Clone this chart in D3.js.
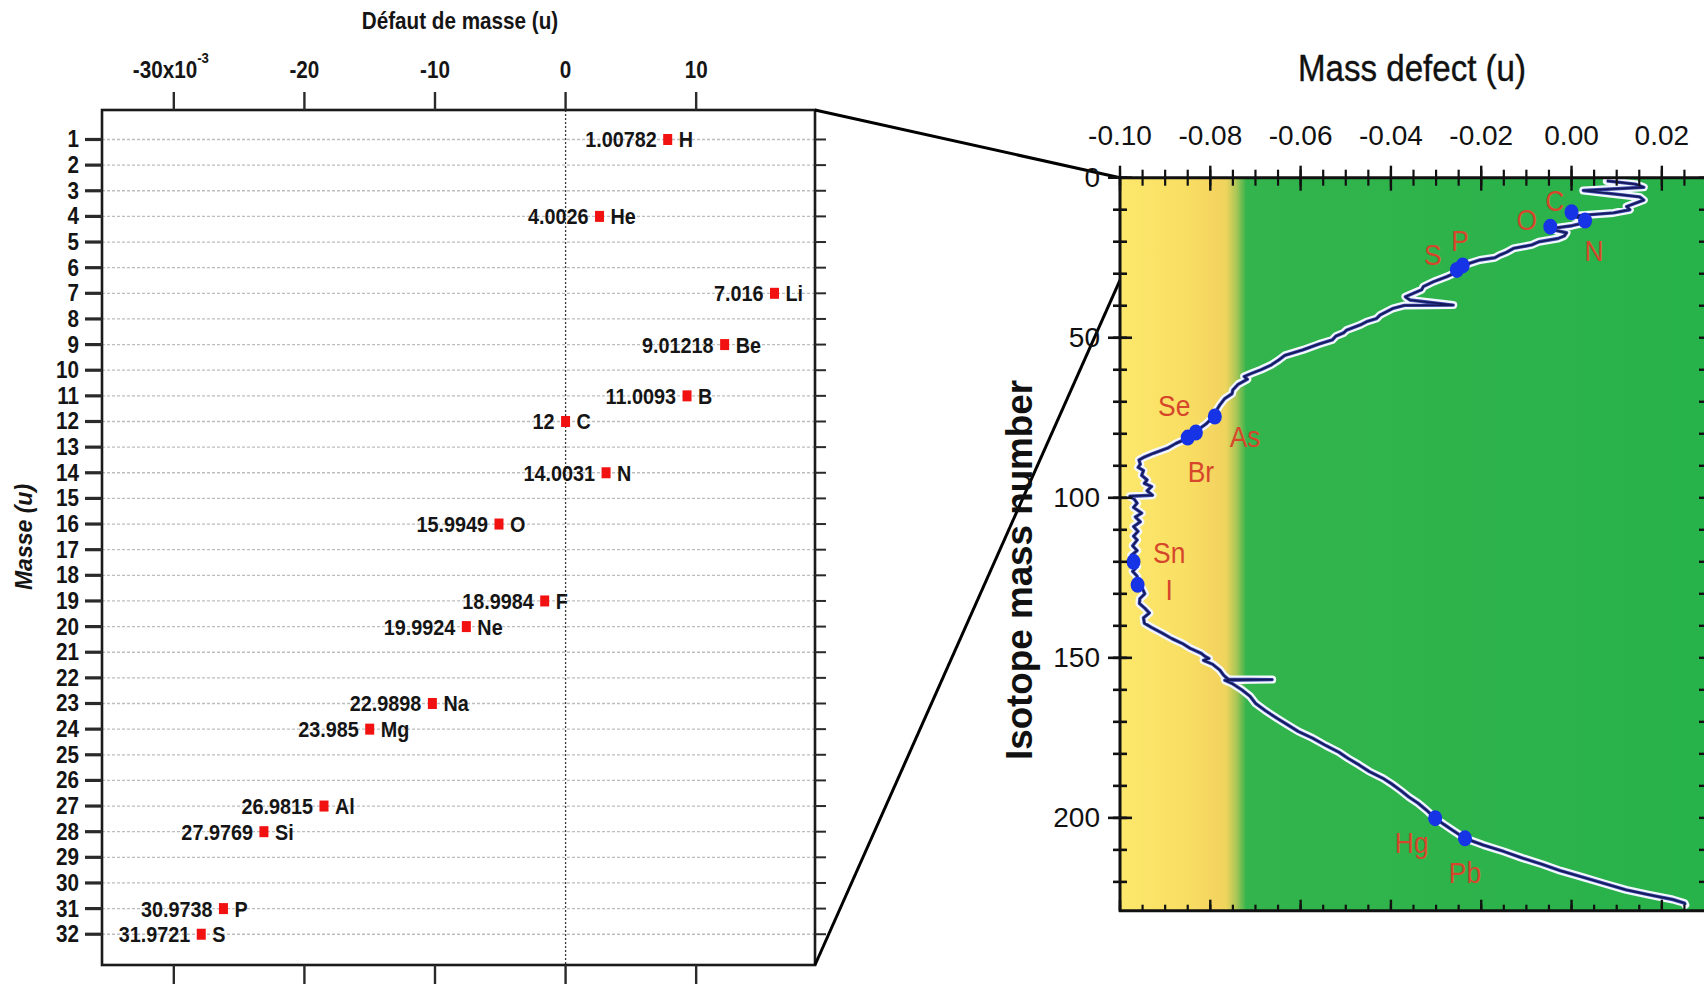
<!DOCTYPE html>
<html>
<head>
<meta charset="utf-8">
<script src="https://cdn.jsdelivr.net/npm/d3@7"></script>
<style>
  html, body { margin: 0; padding: 0; background: #ffffff; }
  svg { display: block; }
</style>
</head>
<body>
<svg id="chart" width="1704" height="984"></svg>
<script>
// ---------- light isotopes (left panel) ----------
const isotopeA      = [1, 4, 7, 9, 11, 12, 14, 16, 19, 20, 23, 24, 27, 28, 31, 32];
const isotopeMass   = [1.00782, 4.0026, 7.016, 9.01218, 11.0093, 12, 14.0031, 15.9949,
                       18.9984, 19.9924, 22.9898, 23.985, 26.9815, 27.9769, 30.9738, 31.9721];
const isotopeSymbol = ["H", "He", "Li", "Be", "B", "C", "N", "O",
                       "F", "Ne", "Na", "Mg", "Al", "Si", "P", "S"];
const leftDefectTicks = [-30, -20, -10, 0, 10];           // units of 10^-3 u
const leftMassTicks   = d3.range(1, 33);

// ---------- mass defect curve over all mass numbers (right panel) ----------
const curveA = [
  1.0, 2.0, 3.0, 4.0, 6.0, 7.0, 9.0, 10.0, 11.0, 12.0, 13.0, 14.0, 15.0, 16.0,
  17.2, 18.2, 19.0, 20.0, 21.0, 22.1, 23.3, 24.1, 25.0, 25.7, 26.7, 27.5, 28.8,
  30.0, 30.9, 32.5, 34.0, 35.0, 36.1, 37.2, 38.2, 39.8, 39.9, 40.8, 42.9, 44.0,
  45.0, 46.0, 47.6, 48.5, 49.5, 50.7, 52.0, 53.8, 55.5, 56.9, 58.5, 60.0, 61.1,
  62.1, 63.0, 64.5, 66.3, 67.5, 69.0, 71.0, 73.1, 75.0, 77.0, 79.0, 80.5, 82.0,
  83.0, 84.5, 86.1, 87.2, 88.2, 89.5, 90.5, 91.5, 93.0, 94.4, 95.5, 96.5, 97.8,
  99.2, 99.5, 100.5, 101.7, 103.0, 104.8, 106.0, 107.5, 109.0, 110.5, 112.0,
  113.2, 115.0, 116.5, 118.0, 119.9, 121.5, 123.0, 124.5, 126.7, 128.5, 130.0,
  131.5, 133.0, 134.5, 136.0, 137.5, 139.2, 140.5, 142.3, 144.0, 145.5, 147.0,
  148.6, 149.5, 150.2, 150.8, 152.0, 153.8, 155.5, 156.7, 156.8, 157.0, 158.0,
  160.0, 162.0, 164.2, 166.5, 168.9, 171.0, 173.0, 175.1, 177.5, 179.5, 181.4,
  183.5, 185.5, 187.6, 189.5, 191.5, 193.5, 195.4, 197.5, 200.1, 202.0, 204.0,
  206.4, 208.5, 210.5, 212.5, 214.5, 216.5, 218.3, 220.5, 222.5, 224.0, 225.5,
  226.6, 227.2
];
const curveDefect = [
  0.0078, 0.0141, 0.0160, 0.0026, 0.0151, 0.0160, 0.0122, 0.0129, 0.0093, 0.0000,
  0.0034, 0.0031, 0.0001, -0.0051,
  -0.0011, -0.0016, -0.0030, -0.0072, -0.0088, -0.0129, -0.0144, -0.0158, -0.0170,
  -0.0203, -0.0225, -0.0240, -0.0254,
  -0.0262, -0.0276, -0.0306, -0.0328, -0.0332, -0.0350, -0.0368, -0.0358, -0.0262,
  -0.0370, -0.0395, -0.0424, -0.0432,
  -0.0454, -0.0468, -0.0498, -0.0505, -0.0522, -0.0530, -0.0560, -0.0595, -0.0635,
  -0.0648, -0.0665, -0.0688, -0.0708,
  -0.0725, -0.0718, -0.0738, -0.0750, -0.0752, -0.0768, -0.0779, -0.0788, -0.0795,
  -0.0810, -0.0830, -0.0845, -0.0860,
  -0.0876, -0.0895, -0.0926, -0.0945, -0.0958, -0.0955, -0.0960, -0.0948, -0.0952,
  -0.0940, -0.0946, -0.0930, -0.0940,
  -0.0928, -0.0978, -0.0968, -0.0962, -0.0970, -0.0952, -0.0966, -0.0955, -0.0970,
  -0.0960, -0.0970,
  -0.0962, -0.0972, -0.0962, -0.0975, -0.0970, -0.0962, -0.0972, -0.0962, -0.0959,
  -0.0950, -0.0945,
  -0.0956, -0.0957, -0.0945, -0.0935, -0.0948, -0.0946, -0.0930, -0.0906, -0.0885,
  -0.0862, -0.0845,
  -0.0820, -0.0812, -0.0803, -0.0815, -0.0795, -0.0779, -0.0770, -0.0760, -0.0663,
  -0.0768, -0.0752,
  -0.0730, -0.0712, -0.0700, -0.0678, -0.0652, -0.0628, -0.0605, -0.0573, -0.0543,
  -0.0515, -0.0495,
  -0.0470, -0.0448, -0.0418, -0.0397, -0.0378, -0.0360, -0.0340, -0.0322, -0.0302,
  -0.0283, -0.0262,
  -0.0236, -0.0195, -0.0150, -0.0110, -0.0065, -0.0025, 0.0019, 0.0072, 0.0121,
  0.0170, 0.0224,
  0.0250, 0.0252
];

// highlighted nuclides on the curve
const markedSymbol = ["C", "N", "O", "S", "P", "As", "Se", "Br", "Sn", "I", "Hg", "Pb"];
const markedA      = [10.8, 13.4, 15.3, 28.8, 27.4, 74.6, 79.6, 81.2, 120.0, 127.2, 200.1, 206.4];
const markedDefect = [0.0000, 0.0030, -0.0047, -0.0254, -0.0241, -0.0790, -0.0832, -0.0850,
                      -0.0970, -0.0961, -0.0302, -0.0236];

const rightDefectTicks = [-0.10, -0.08, -0.06, -0.04, -0.02, 0.00, 0.02];
const rightMassTicks   = [0, 50, 100, 150, 200];

// label placement for the highlighted nuclides (data coordinates of label centre)
const labelSpot = {
  C: [7.0, -0.0037],  O: [12.9, -0.0099], N: [22.6, 0.0050],
  S: [24.1, -0.0307], P: [19.5, -0.0247],
  Se: [71.0, -0.0880], As: [80.7, -0.0723], Br: [91.9, -0.0821],
  Sn: [117.2, -0.0891], I: [128.5, -0.0891],
  Hg: [207.8, -0.0354], Pb: [216.9, -0.0236]
};

// ====================================================================
const svg = d3.select("#chart");
const SANS = "'Liberation Sans', Arial, Helvetica, sans-serif";
const NARROW = 0.88;   // horizontal squeeze for the condensed lettering

function narrowText(g, x, y, txt, opts) {
  const t = g.append("text")
    .attr("transform", `translate(${x},${y}) scale(${opts.sx || NARROW},1)`)
    .attr("font-family", SANS)
    .attr("font-size", opts.size)
    .attr("font-weight", opts.weight || "bold")
    .attr("font-style", opts.style || "normal")
    .attr("fill", opts.fill || "#151515")
    .attr("text-anchor", opts.anchor || "middle")
    .attr("dominant-baseline", "central")
    .text(txt);
  return t;
}

// ---------------- left panel ----------------
const L = { x0: 102, x1: 815, y0: 110, y1: 965 };
const xL = d3.scaleLinear().domain([-35.5, 19.1]).range([L.x0, L.x1]);
const yL = d3.scaleLinear().domain([-0.15, 33.2]).range([L.y0, L.y1]);
const gL = svg.append("g");

// dashed grid rows
gL.selectAll("line.row").data(leftMassTicks).join("line")
  .attr("class", "row")
  .attr("x1", L.x0).attr("x2", L.x1)
  .attr("y1", d => yL(d)).attr("y2", d => yL(d))
  .attr("stroke", "#bdbdbd").attr("stroke-width", 1.3)
  .attr("stroke-dasharray", "3,2");

// zero reference line
gL.append("line")
  .attr("x1", xL(0)).attr("x2", xL(0)).attr("y1", L.y0).attr("y2", L.y1)
  .attr("stroke", "#3a3a3a").attr("stroke-width", 1.3).attr("stroke-dasharray", "2,2");

// frame
gL.append("rect")
  .attr("x", L.x0).attr("y", L.y0)
  .attr("width", L.x1 - L.x0).attr("height", L.y1 - L.y0)
  .attr("fill", "none").attr("stroke", "#1a1a1a").attr("stroke-width", 2.6);

// left ticks + labels
gL.selectAll("line.ytl").data(leftMassTicks).join("line")
  .attr("x1", L.x0 - 17).attr("x2", L.x0)
  .attr("y1", d => yL(d)).attr("y2", d => yL(d))
  .attr("stroke", "#2a2a2a").attr("stroke-width", 3.2);
leftMassTicks.forEach(d => narrowText(gL, 79, yL(d), String(d), { size: 23.5, anchor: "end" }));

// right ticks
gL.selectAll("line.ytr").data(leftMassTicks).join("line")
  .attr("x1", L.x1).attr("x2", L.x1 + 11)
  .attr("y1", d => yL(d)).attr("y2", d => yL(d))
  .attr("stroke", "#2a2a2a").attr("stroke-width", 2);

// top and bottom ticks
gL.selectAll("line.xtt").data(leftDefectTicks).join("line")
  .attr("x1", d => xL(d)).attr("x2", d => xL(d))
  .attr("y1", L.y0 - 18).attr("y2", L.y0)
  .attr("stroke", "#2a2a2a").attr("stroke-width", 2.4);
gL.selectAll("line.xtb").data(leftDefectTicks).join("line")
  .attr("x1", d => xL(d)).attr("x2", d => xL(d))
  .attr("y1", L.y1).attr("y2", L.y1 + 19)
  .attr("stroke", "#2a2a2a").attr("stroke-width", 2.4);

// top tick labels (first one carries the x10^-3 multiplier)
leftDefectTicks.forEach((d, i) => {
  if (i === 0) {
    const t = narrowText(gL, xL(d) - 3, 70, "", { size: 23.5 });
    t.append("tspan").text(String(d) + "x10");
    t.append("tspan").attr("font-size", 15).attr("dy", -12).text("-3");
  } else {
    narrowText(gL, xL(d), 70, String(d), { size: 23.5 });
  }
});

// axis titles
narrowText(gL, 460, 21, "Défaut de masse (u)", { size: 23.5 });
gL.append("text")
  .attr("transform", `translate(24,537) rotate(-90)`)
  .attr("font-family", SANS).attr("font-size", 23)
  .attr("font-weight", "bold").attr("font-style", "italic")
  .attr("fill", "#151515").attr("text-anchor", "middle")
  .attr("dominant-baseline", "central")
  .text("Masse (u)");

// red markers with mass and symbol labels
const light = isotopeA.map((a, i) => ({
  A: a, mass: isotopeMass[i], sym: isotopeSymbol[i],
  defect: (isotopeMass[i] - a) * 1000
}));
gL.selectAll("rect.mk").data(light).join("rect")
  .attr("x", d => xL(d.defect) - 4.5).attr("y", d => yL(d.A) - 5.5)
  .attr("width", 9).attr("height", 11)
  .attr("fill", "#f21111");
light.forEach(d => {
  narrowText(gL, xL(d.defect) - 11, yL(d.A), String(d.mass), { size: 22.5, anchor: "end" });
  narrowText(gL, xL(d.defect) + 11, yL(d.A), d.sym, { size: 22.5, anchor: "start" });
});

// ---------------- right panel ----------------
const R = { x0: 1120, x1: 1707, y0: 177.7, y1: 910.7 };
const xR = d3.scaleLinear().domain([-0.10, 0.03]).range([R.x0, R.x1]);
const yR = d3.scaleLinear().domain([0, 229]).range([R.y0, R.y1]);
const gR = svg.append("g");

// zoom connectors from the left frame to the 0..32 span of the mass axis
gL.append("line")
  .attr("x1", L.x1).attr("y1", L.y0).attr("x2", R.x0).attr("y2", yR(0))
  .attr("stroke", "#000").attr("stroke-width", 3);
gL.append("line")
  .attr("x1", L.x1).attr("y1", L.y1).attr("x2", R.x0).attr("y2", yR(32))
  .attr("stroke", "#000").attr("stroke-width", 3);

// yellow-to-green band
const defs = svg.append("defs");
const grad = defs.append("linearGradient").attr("id", "band")
  .attr("gradientUnits", "userSpaceOnUse")
  .attr("x1", R.x0).attr("x2", R.x1).attr("y1", 0).attr("y2", 0);
[
  [-0.100, "#fce86c"], [-0.086, "#f9df64"], [-0.0785, "#f4d45f"],
  [-0.0765, "#eed45d"], [-0.0742, "#a9c656"], [-0.0720, "#33b44c"],
  [0.030, "#28b24a"]
].forEach(([v, c]) => grad.append("stop")
  .attr("offset", (xR(v) - R.x0) / (R.x1 - R.x0)).attr("stop-color", c));

gR.append("rect")
  .attr("x", R.x0).attr("y", R.y0)
  .attr("width", R.x1 - R.x0).attr("height", R.y1 - R.y0)
  .attr("fill", "url(#band)");

// curve: white halo, blue body, dark core
const curve = curveA.map((a, i) => ({ A: a, d: curveDefect[i] }));
const line = d3.line().x(p => xR(p.d)).y(p => yR(p.A));
gR.append("path").datum(curve).attr("d", line)
  .attr("fill", "none").attr("stroke", "#f3f7ff").attr("stroke-width", 8)
  .attr("stroke-linejoin", "round").attr("stroke-linecap", "round");
gR.append("path").datum(curve).attr("d", line)
  .attr("fill", "none").attr("stroke", "#3a44a6").attr("stroke-width", 3.4)
  .attr("stroke-linejoin", "round");
gR.append("path").datum(curve).attr("d", line)
  .attr("fill", "none").attr("stroke", "#14195a").attr("stroke-width", 1.7)
  .attr("stroke-linejoin", "round");

// highlighted nuclides
const marked = markedSymbol.map((s, i) => ({ sym: s, A: markedA[i], d: markedDefect[i] }));
gR.selectAll("ellipse.dot").data(marked).join("ellipse")
  .attr("cx", p => xR(p.d)).attr("cy", p => yR(p.A))
  .attr("rx", 7).attr("ry", 8)
  .attr("fill", "#1733e6");
marked.forEach(p => {
  const [a, d] = labelSpot[p.sym];
  narrowText(gR, xR(d), yR(a), p.sym, { size: 30, weight: "normal", fill: "#d6462b" });
});

// axis lines
gR.append("line").attr("x1", R.x0).attr("x2", R.x1 + 2).attr("y1", R.y0).attr("y2", R.y0)
  .attr("stroke", "#111").attr("stroke-width", 3);
gR.append("line").attr("x1", R.x0 - 1).attr("x2", R.x1 + 2).attr("y1", R.y1).attr("y2", R.y1)
  .attr("stroke", "#111").attr("stroke-width", 3);
gR.append("line").attr("x1", R.x0).attr("x2", R.x0).attr("y1", R.y0 - 1).attr("y2", R.y1 + 1)
  .attr("stroke", "#111").attr("stroke-width", 3);
gR.append("line").attr("x1", R.x1).attr("x2", R.x1).attr("y1", R.y0).attr("y2", R.y1)
  .attr("stroke", "#111").attr("stroke-width", 3);

// x ticks: majors every 0.02, minors every 0.005
const xMinor = d3.range(0, 27).map(k => -0.10 + k * 0.005);
gR.selectAll("line.xmt").data(xMinor).join("line")
  .attr("x1", d => xR(d)).attr("x2", d => xR(d))
  .attr("y1", R.y0 - 8).attr("y2", R.y0 + 8)
  .attr("stroke", "#111").attr("stroke-width", 2.2);
gR.selectAll("line.xMt").data(rightDefectTicks).join("line")
  .attr("x1", d => xR(d)).attr("x2", d => xR(d))
  .attr("y1", R.y0 - 12).attr("y2", R.y0 + 13)
  .attr("stroke", "#111").attr("stroke-width", 2.4);
gR.selectAll("line.xmb").data(xMinor).join("line")
  .attr("x1", d => xR(d)).attr("x2", d => xR(d))
  .attr("y1", R.y1 - 6).attr("y2", R.y1)
  .attr("stroke", "#111").attr("stroke-width", 2.2);
gR.selectAll("line.xMb").data(rightDefectTicks).join("line")
  .attr("x1", d => xR(d)).attr("x2", d => xR(d))
  .attr("y1", R.y1 - 11).attr("y2", R.y1)
  .attr("stroke", "#111").attr("stroke-width", 2.4);
rightDefectTicks.forEach(d =>
  gR.append("text")
    .attr("x", xR(d)).attr("y", 135)
    .attr("font-family", SANS).attr("font-size", 28).attr("fill", "#111")
    .attr("text-anchor", "middle").attr("dominant-baseline", "central")
    .text(d.toFixed(2)));

// y ticks: majors every 50, minors every 10
const yMinor = d3.range(0, 23).map(k => k * 10);
gR.selectAll("line.ymt").data(yMinor).join("line")
  .attr("x1", R.x0 - 7).attr("x2", R.x0 + 7)
  .attr("y1", d => yR(d)).attr("y2", d => yR(d))
  .attr("stroke", "#111").attr("stroke-width", 2.6);
gR.selectAll("line.yMt").data(rightMassTicks).join("line")
  .attr("x1", R.x0 - 12).attr("x2", R.x0 + 12)
  .attr("y1", d => yR(d)).attr("y2", d => yR(d))
  .attr("stroke", "#111").attr("stroke-width", 2.6);
gR.selectAll("line.ymr").data(yMinor).join("line")
  .attr("x1", R.x1 - 8).attr("x2", R.x1)
  .attr("y1", d => yR(d)).attr("y2", d => yR(d))
  .attr("stroke", "#111").attr("stroke-width", 2.4);
rightMassTicks.forEach(d =>
  gR.append("text")
    .attr("x", 1100).attr("y", yR(d))
    .attr("font-family", SANS).attr("font-size", 28).attr("fill", "#111")
    .attr("text-anchor", "end").attr("dominant-baseline", "central")
    .text(String(d)));

// axis titles
gR.append("text")
  .attr("x", 1412).attr("y", 68)
  .attr("font-family", SANS).attr("font-size", 37).attr("fill", "#111")
  .attr("stroke", "#111").attr("stroke-width", 0.4)
  .attr("text-anchor", "middle").attr("dominant-baseline", "central")
  .attr("textLength", 228).attr("lengthAdjust", "spacingAndGlyphs")
  .text("Mass defect (u)");
gR.append("text")
  .attr("transform", "translate(1019,570) rotate(-90)")
  .attr("font-family", SANS).attr("font-size", 36).attr("font-weight", "bold")
  .attr("fill", "#111")
  .attr("text-anchor", "middle").attr("dominant-baseline", "central")
  .attr("textLength", 380).attr("lengthAdjust", "spacingAndGlyphs")
  .text("Isotope mass number");
</script>
</body>
</html>
